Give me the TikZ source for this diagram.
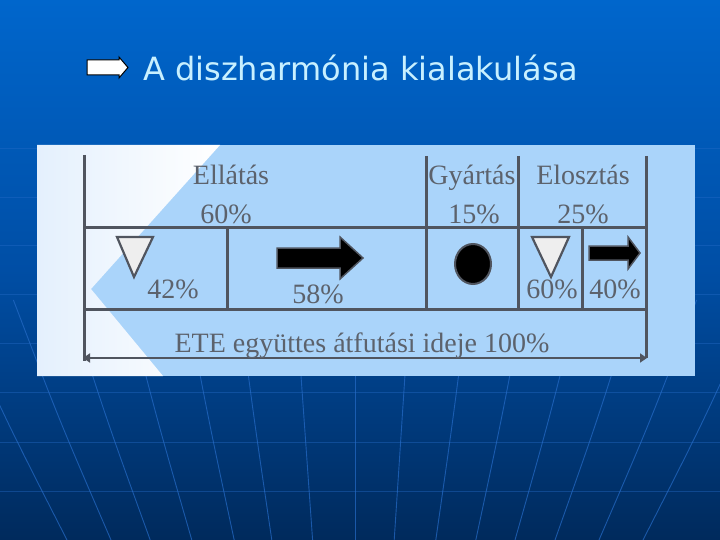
\documentclass[tikz,border=0pt]{standalone}
\usepackage{fontspec}
\setmainfont{Liberation Serif}
\newfontfamily\titlefont{DejaVu Sans}
\usetikzlibrary{arrows.meta}

\definecolor{bgtop}{RGB}{0,102,204}
\definecolor{bgmid}{RGB}{0,78,165}
\definecolor{bgbottom}{RGB}{0,42,92}
\definecolor{gridblue}{RGB}{38,108,200}
\definecolor{panelblue}{RGB}{170,212,250}
\definecolor{panelwhite}{RGB}{228,240,253}
\definecolor{linegray}{RGB}{80,85,95}
\definecolor{labelgray}{RGB}{92,98,108}
\definecolor{symbolfill}{RGB}{238,238,238}
\definecolor{titlecyan}{RGB}{200,240,255}

\begin{document}
\begin{tikzpicture}[x=1pt,y=-1pt,
                    every node/.style={inner sep=0pt, anchor=base, text=labelgray, font=\fontsize{28}{30}\selectfont},
                    grid_style/.style={draw=linegray, line width=3pt},
                    bg_line/.style={draw=gridblue, line width=0.9pt, opacity=0.7},
                    storage_style/.style={fill=symbolfill, draw=linegray, line width=2.2pt, line join=miter},
                    move_style/.style={fill=black, draw=linegray, line width=1.5pt, line join=miter},
                    title_style/.style={anchor=base west, font=\titlefont\fontsize{32}{36}\selectfont}]
                    \useasboundingbox (0,0) rectangle (720,540);
                    % background
                    \shade[top color=bgtop, bottom color=bgbottom, middle color=bgmid] (0,0) rectangle (720,540);
                    \foreach \y in {148,197,245,294,343,392,442,491}
                        \draw[bg_line, opacity=0.4] (0,\y) -- (720,\y);
                    \foreach \d in {-360,-305,-256,-204,-151,-104,-53,0,49,101,151,200,250,305,360}
                        \draw[bg_line] (355+1.12*\d,300) .. controls (355+0.97*\d,420) .. (355+0.8*\d,540);
                    % title
                    \draw[fill=white, draw=black, line width=1pt] (87,60) -- (119,60) -- (119,57) -- (128,67.5)
                        -- (119,78) -- (119,75) -- (87,75) -- cycle;
                    \node[title_style, text=titlecyan] (title) at (143,81) {A diszharmónia kialakulása};
                    % panel
                    \fill[panelblue] (37,145) rectangle (695,376);
                    \shade[left color=panelwhite, right color=white] (37,145) -- (220,145) -- (91,289) -- (163,376) -- (37,376) -- cycle;
                    % grid
                    \coordinate (tl) at (84,155);
                    \coordinate (ml) at (84,228);
                    \coordinate (bl) at (84,309);
                    \coordinate (lb) at (84,361);
                    \coordinate (al) at (83,358);
                    \coordinate (tr) at (646,156);
                    \coordinate (mr) at (646,228);
                    \coordinate (br) at (646,309);
                    \coordinate (rb) at (646,358);
                    \coordinate (ar) at (647,358);
                    \coordinate (g1t) at (426,156);
                    \coordinate (g1b) at (426,309);
                    \coordinate (g2t) at (518,156);
                    \coordinate (g2b) at (518,309);
                    \coordinate (s1t) at (227,228);
                    \coordinate (s1b) at (227,309);
                    \coordinate (s2t) at (582,228);
                    \coordinate (s2b) at (582,309);
                    \draw[grid_style] (tl) -- (lb);
                    \draw[grid_style] (tr) -- (rb);
                    \draw[grid_style] (ml) -- (mr);
                    \draw[grid_style] (bl) -- (br);
                    \draw[grid_style] (g1t) -- (g1b);
                    \draw[grid_style] (g2t) -- (g2b);
                    \draw[grid_style] (s1t) -- (s1b);
                    \draw[grid_style] (s2t) -- (s2b);
                    \draw[grid_style, line width=2.2pt, {Triangle[length=7pt,width=9pt]}-{Triangle[length=7pt,width=9pt]}] (al) -- (ar);
                    % symbols
                    \draw[storage_style] (117,237) -- (153,237) -- (134,277) -- cycle;
                    \draw[move_style] (277,248) -- (340,248) -- (340,237) -- (363,258) -- (340,279) -- (340,268) -- (277,268) -- cycle;
                    \draw[fill=black, draw=linegray, line width=2pt] (473,264) ellipse [x radius=18, y radius=20];
                    \draw[storage_style] (532,237) -- (569,237) -- (551,277) -- cycle;
                    \draw[move_style] (589,246) -- (628,246) -- (628,237) -- (640,253) -- (628,269) -- (628,260) -- (589,260) -- cycle;
                    % labels
                    \node (supply) at (231,185) {Ellátás};
                    \node (supplyp) at (226,223) {60\%};
                    \node (prod) at (472,185) {Gyártás};
                    \node (prodp) at (474,223) {15\%};
                    \node (distr) at (583,185) {Elosztás};
                    \node (distrp) at (583,223) {25\%};
                    \node (wait1) at (173,298) {42\%};
                    \node (move1) at (318,303) {58\%};
                    \node (wait2) at (552,298) {60\%};
                    \node (move2) at (615,298) {40\%};
                    \node (total) at (362,352) {ETE együttes átfutási ideje 100\%};
                \end{tikzpicture}
\end{document}
